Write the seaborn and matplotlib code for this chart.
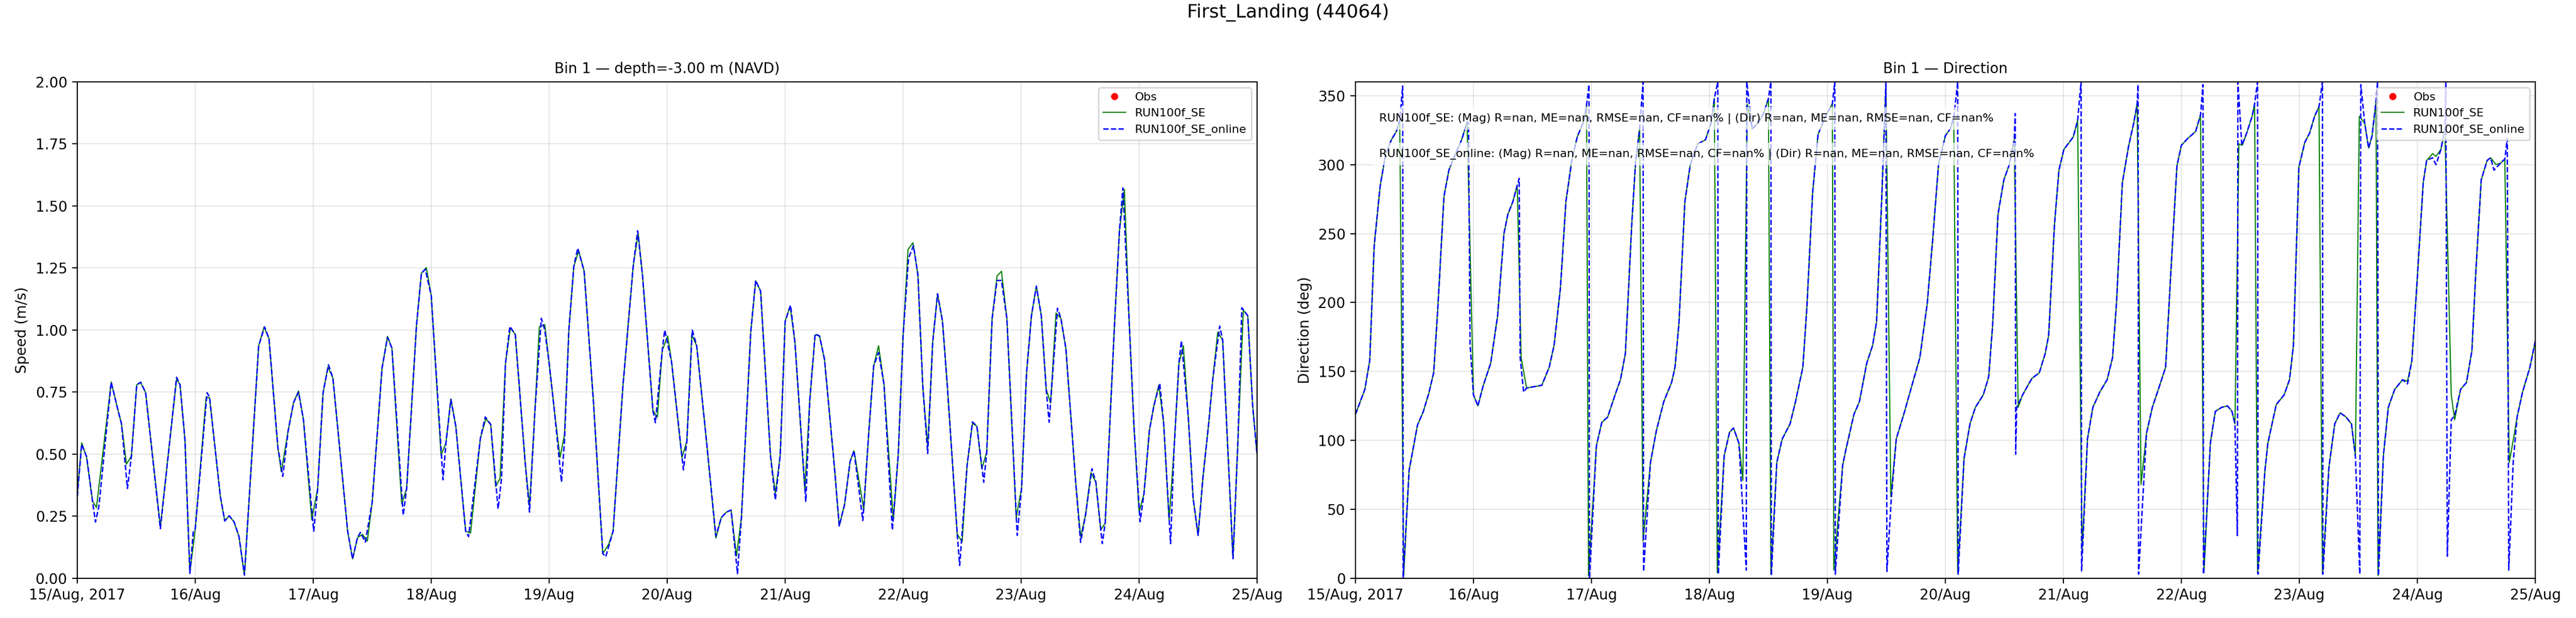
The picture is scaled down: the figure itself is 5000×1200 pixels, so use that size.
import numpy as np
import pandas as pd
import matplotlib
matplotlib.use("Agg")
import matplotlib.pyplot as plt
import seaborn as sns

plt.rcParams['font.family'] = ['DejaVu Sans']

# ---- data (hours after 15/Aug/2017 00:00, value) ----
station_title = "First_Landing (44064)"
speed_title = "Bin 1 \u2014 depth=-3.00 m (NAVD)"
dir_title = "Bin 1 \u2014 Direction"
run_names = ["RUN100f_SE", "RUN100f_SE_online"]
day_labels = ["15/Aug, 2017", "16/Aug", "17/Aug", "18/Aug", "19/Aug", "20/Aug",
              "21/Aug", "22/Aug", "23/Aug", "24/Aug", "25/Aug"]
speed_ticks = [0.0, 0.25, 0.5, 0.75, 1.0, 1.25, 1.5, 1.75, 2.0]
dir_ticks = [0, 50, 100, 150, 200, 250, 300, 350]

speed_se = [
    (0, 0.34), (0.9, 0.546), (1.9, 0.487), (3.1, 0.312), (3.9, 0.285), (6.9, 0.791),
    (8.3, 0.676), (9, 0.622), (10, 0.46), (11, 0.492), (12.1, 0.78), (12.9, 0.788),
    (13.9, 0.748), (16.9, 0.209), (20.2, 0.802), (20.9, 0.78), (21.9, 0.559), (22.9, 0.022),
    (24, 0.2), (26.2, 0.728), (26.9, 0.728), (29.1, 0.33), (30, 0.231), (30.9, 0.252),
    (31.9, 0.227), (32.9, 0.168), (34, 0.013), (36.9, 0.937), (38, 1.013), (39, 0.966),
    (40.8, 0.528), (41.5, 0.429), (42.9, 0.595), (44, 0.708), (45, 0.755), (46, 0.64),
    (47.7, 0.236), (48.9, 0.362), (50, 0.748), (51, 0.852), (52, 0.807), (55, 0.19),
    (56, 0.078), (57, 0.164), (58, 0.177), (59, 0.15), (60, 0.308), (62, 0.847),
    (63.1, 0.975), (64, 0.928), (66, 0.299), (67, 0.362), (69, 1.018), (70, 1.229),
    (71, 1.252), (72, 1.139), (74, 0.496), (75, 0.546), (76, 0.723), (77, 0.613),
    (79, 0.19), (80, 0.182), (82, 0.564), (83.1, 0.642), (84.1, 0.62), (85.1, 0.37),
    (86, 0.402), (87.1, 0.865), (88.1, 1.009), (89.1, 0.982), (91.1, 0.469), (92, 0.294),
    (93.1, 0.676), (94, 1.013), (95.1, 1.022), (96, 0.865), (97.1, 0.667), (98.2, 0.487),
    (99.1, 0.577), (100, 1.0), (101, 1.256), (102, 1.319), (103.1, 1.238), (105, 0.712),
    (106.9, 0.1), (108.1, 0.137), (109, 0.19), (111, 0.775), (113.1, 1.26), (114.1, 1.39),
    (115, 1.216), (117.1, 0.676), (118, 0.649), (119, 0.919), (120.1, 0.976), (120.9, 0.871),
    (123, 0.486), (124, 0.552), (125, 0.981), (126, 0.937), (128, 0.552), (129.9, 0.162),
    (131, 0.244), (132, 0.266), (133, 0.275), (134.1, 0.09), (135.1, 0.244), (137, 0.992),
    (138, 1.199), (139, 1.157), (141, 0.497), (142, 0.343), (143, 0.497), (144, 1.036),
    (145, 1.097), (146, 0.948), (148, 0.354), (149, 0.717), (150.1, 0.981), (151, 0.976),
    (152, 0.882), (154, 0.453), (155, 0.211), (156.1, 0.299), (157.2, 0.47), (158, 0.514),
    (160, 0.277), (161, 0.585), (162, 0.855), (163, 0.937), (164.1, 0.783), (166, 0.233),
    (167, 0.497), (168, 0.981), (169, 1.325), (170, 1.352), (171, 1.223), (172, 0.772),
    (173, 0.53), (174, 0.948), (175, 1.146), (176, 1.036), (177, 0.772), (179, 0.178),
    (180, 0.147), (181, 0.453), (182.1, 0.624), (183, 0.613), (184, 0.442), (185, 0.508),
    (186.1, 1.047), (187.1, 1.218), (188, 1.237), (189.1, 1.047), (191, 0.244), (192.1, 0.365),
    (193.1, 0.827), (194.1, 1.058), (195.1, 1.177), (196.1, 1.058), (197.1, 0.761), (198, 0.706),
    (199.1, 1.069), (200.1, 1.047), (201.1, 0.926), (203.1, 0.387), (204.1, 0.167), (205.1, 0.255),
    (206.2, 0.426), (207.2, 0.387), (208.2, 0.195), (209.1, 0.222), (211, 1.025), (212, 1.399),
    (213, 1.567), (214, 1.025), (215, 0.596), (216, 0.266), (217, 0.343), (218.1, 0.596),
    (219, 0.695), (220, 0.778), (221, 0.624), (222.1, 0.233), (223.1, 0.519), (224.1, 0.866),
    (225, 0.937), (226, 0.651), (227, 0.321), (228, 0.173), (229, 0.409), (230.1, 0.613),
    (231, 0.805), (232, 0.992), (233, 0.959), (234.1, 0.497), (235.1, 0.079), (236.1, 0.552),
    (237.2, 1.08), (238.1, 1.058), (239.1, 0.695), (240, 0.497),
]

speed_online = [
    (0, 0.33), (0.9, 0.54), (1.9, 0.49), (3.1, 0.31), (3.7, 0.227), (4.4, 0.29), (6.9, 0.79),
    (8.3, 0.676), (9, 0.622), (10.2, 0.362), (11, 0.49), (12.1, 0.78), (12.9, 0.79),
    (13.9, 0.748), (16.9, 0.2), (20.2, 0.81), (20.9, 0.78), (21.9, 0.559), (22.9, 0.02),
    (23.6, 0.19), (24, 0.2), (26.4, 0.748), (26.9, 0.73), (29.1, 0.33), (30, 0.231), (30.9, 0.252),
    (31.9, 0.227), (32.9, 0.168), (34, 0.013), (36.9, 0.937), (38.1, 1.013), (39, 0.966),
    (40.8, 0.528), (41.8, 0.411), (42.9, 0.595), (44, 0.708), (45, 0.75), (46, 0.64),
    (48.1, 0.19), (48.9, 0.36), (50, 0.748), (51.1, 0.86), (52, 0.807), (55, 0.19),
    (56, 0.078), (57, 0.164), (57.6, 0.185), (58.6, 0.146), (60, 0.308), (62, 0.847),
    (63.1, 0.97), (64, 0.928), (66.3, 0.254), (67, 0.362), (69, 1.018), (70, 1.229),
    (70.8, 1.245), (72, 1.139), (74.4, 0.397), (75, 0.546), (76, 0.72), (77, 0.613),
    (79, 0.19), (79.6, 0.168), (82, 0.564), (83, 0.65), (84.1, 0.62), (85.6, 0.28),
    (86.3, 0.402), (87.1, 0.865), (88, 1.015), (89.1, 0.982), (91.1, 0.469), (92, 0.267),
    (93.1, 0.676), (94.4, 1.047), (95.1, 1.0), (96, 0.865), (97.1, 0.667), (98.5, 0.388),
    (99.1, 0.55), (100, 1.0), (101, 1.256), (101.8, 1.33), (103.1, 1.238), (105, 0.712),
    (106.9, 0.1), (107.5, 0.087), (109, 0.19), (111, 0.775), (113.1, 1.26), (114, 1.4),
    (115, 1.216), (117.1, 0.676), (117.6, 0.627), (119, 0.919), (119.5, 1.0), (120.9, 0.871),
    (123.3, 0.437), (124, 0.552), (125.1, 1.0), (126, 0.937), (128, 0.552), (129.9, 0.17),
    (131, 0.244), (132, 0.266), (133, 0.275), (134.3, 0.019), (135.1, 0.244), (137, 0.992),
    (138, 1.2), (139, 1.157), (141, 0.497), (142, 0.316), (143, 0.497), (144, 1.036),
    (145.1, 1.1), (146, 0.948), (148.2, 0.31), (149, 0.717), (150.1, 0.985), (151, 0.976),
    (152, 0.882), (154, 0.453), (155, 0.211), (156.1, 0.299), (157.2, 0.47), (158, 0.514),
    (159.8, 0.233), (161, 0.585), (162, 0.855), (163, 0.91), (164.1, 0.783), (165.8, 0.195),
    (167, 0.497), (168, 0.981), (169.1, 1.29), (170.1, 1.34), (171, 1.223), (172, 0.772),
    (173, 0.503), (174, 0.948), (175, 1.146), (176, 1.036), (177, 0.772), (179, 0.178),
    (179.5, 0.052), (181, 0.453), (182.1, 0.63), (183, 0.613), (184.4, 0.387), (185, 0.508),
    (186.1, 1.047), (187.1, 1.2), (188, 1.2), (189.1, 1.047), (191.2, 0.173), (192.1, 0.365),
    (193.1, 0.827), (194.1, 1.058), (195.1, 1.177), (196.1, 1.058), (197.1, 0.761), (197.7, 0.629),
    (199.4, 1.088), (200.1, 1.047), (201.1, 0.926), (203.1, 0.387), (204.1, 0.145), (205.1, 0.255),
    (206.4, 0.442), (207.2, 0.387), (208.5, 0.14), (209.1, 0.222), (211, 1.025), (212, 1.399),
    (212.7, 1.573), (214, 1.025), (215, 0.596), (216.2, 0.228), (217, 0.343), (218.1, 0.596),
    (219, 0.695), (220.2, 0.785), (221, 0.624), (222.4, 0.14), (223.1, 0.519), (224.1, 0.866),
    (224.6, 0.957), (226, 0.651), (227, 0.321), (228, 0.173), (229, 0.409), (230.1, 0.613),
    (231, 0.805), (232.4, 1.016), (233, 0.959), (234.1, 0.497), (235.1, 0.079), (236.1, 0.552),
    (236.9, 1.09), (238.1, 1.058), (239.1, 0.695), (240, 0.497),
]

dir_se = [
    (0, 119), (1.9, 137), (2.9, 158), (3.8, 241), (5, 284), (6.1, 307), (7.3, 318), (8.3, 324),
    (9, 332), (9.8, 2), (10.9, 78), (12.6, 111), (13.8, 121), (14.9, 134), (15.9, 149),
    (16.8, 199), (18, 277), (19, 296), (20, 305), (21.6, 318), (22.7, 331), (24, 133),
    (24.9, 125), (26, 140), (27.5, 156), (28.9, 190), (30.2, 250), (31, 264), (32, 273),
    (32.9, 285), (33.7, 160), (34.8, 138), (37.9, 140), (39.4, 153), (40.4, 169), (41.7, 211),
    (42.8, 273), (44, 303), (45.1, 320), (46.5, 332), (47, 343), (47.4, 2), (49, 96),
    (50.1, 113), (51.3, 117), (52.8, 133), (53.9, 144), (54.9, 163), (56.2, 257), (57, 303),
    (57.8, 326), (58.5, 27), (60, 84), (61.2, 107), (62.7, 128), (64.3, 142), (65, 153),
    (65.8, 185), (67, 273), (68.1, 300), (69.6, 315), (71.2, 318), (72.3, 330), (73, 348),
    (73.6, 4), (75, 89), (76.1, 106), (76.9, 109), (78, 98), (78.8, 71), (79.7, 344),
    (80.7, 326), (81.9, 330), (83, 337), (84, 348), (84.5, 3), (85.7, 84), (86.8, 101),
    (88.4, 112), (89.5, 128), (91, 153), (91.8, 195), (93, 280), (94.1, 322), (95.6, 335),
    (97, 344), (97.3, 6), (99.1, 82), (99.8, 94), (101.4, 119), (102.5, 128), (104, 156),
    (105.2, 169), (106, 186), (107.1, 280), (107.9, 358), (108.9, 59), (110, 101),
    (111.7, 121), (113.2, 140), (114.8, 160), (116.3, 199), (117.4, 245), (118.6, 300),
    (120, 321), (121, 326), (121.7, 334), (122.5, 4), (123.8, 87), (125, 112), (126.1, 124),
    (127.7, 133), (128.8, 146), (129.6, 183), (130.7, 264), (131.9, 289), (133, 300),
    (134, 318), (134.8, 124), (135.7, 133), (137.6, 145), (139.1, 149), (140.3, 163),
    (141, 176), (142.2, 257), (143.1, 296), (144.1, 311), (146, 320), (146.9, 332),
    (147.8, 20), (148.9, 101), (150, 124), (151.4, 135), (152.9, 144), (154, 160),
    (154.8, 199), (156, 287), (157.3, 314), (158.3, 330), (159, 344), (159.8, 68),
    (160.9, 105), (162.1, 124), (163.6, 140), (164.8, 153), (165.8, 218), (167.1, 299),
    (168, 314), (169.3, 319), (170.9, 324), (171.9, 336), (172.6, 4), (173.9, 98),
    (174.9, 121), (176.2, 124), (177.4, 125), (178.3, 121), (178.9, 112), (179.7, 315),
    (180.4, 314), (181.2, 322), (182.4, 335), (182.9, 344), (183.5, 4), (185, 78),
    (185.6, 98), (187.3, 126), (188.9, 133), (190, 144), (190.8, 169), (191.9, 298),
    (193.1, 316), (194.1, 323), (195.1, 335), (196, 342), (196.7, 3), (198, 80),
    (199.2, 112), (200.3, 120), (201.5, 117), (202.6, 112), (203.4, 89), (204.2, 335),
    (205.3, 330), (206.1, 312), (206.8, 321), (207.6, 346), (208, 2), (209.1, 89),
    (210.1, 124), (211.4, 137), (213, 144), (214, 143), (214.9, 158), (216, 218),
    (217.2, 287), (217.9, 303), (219.1, 308), (219.8, 306), (220.8, 311), (221.6, 326),
    (222.9, 133), (223.6, 115), (224.8, 137), (226, 142), (227.1, 165), (227.9, 222),
    (229, 289), (230.2, 303), (230.9, 305), (232, 300), (232.9, 301), (233.8, 304),
    (234.7, 84), (235.5, 100), (236.3, 117), (237.4, 135), (238.9, 153), (240, 172),
]

dir_online = [
    (0, 119), (1.9, 137), (2.9, 158), (3.8, 241), (5, 284), (6.1, 307), (7.3, 318), (8.3, 324),
    (9, 332), (9.6, 357), (9.7, 0), (10.9, 78), (12.6, 111), (13.8, 121), (14.9, 134),
    (15.9, 149), (16.8, 199), (18, 277), (19, 296), (20, 305), (21.6, 318), (22.7, 331),
    (23.0, 330), (23.3, 170), (24, 133), (24.9, 125), (26, 140), (27.5, 156), (28.9, 190),
    (30.2, 250), (31, 264), (32, 273), (32.9, 285), (33.3, 290), (33.5, 160), (34.2, 135),
    (34.8, 138), (37.9, 140), (39.4, 153), (40.4, 169), (41.7, 211), (42.8, 273), (44, 303),
    (45.1, 320), (46.5, 332), (47, 343), (47.5, 358), (47.6, 0), (49, 96), (50.1, 113),
    (51.3, 117), (52.8, 133), (53.9, 144), (54.9, 163), (56.2, 257), (57, 303), (57.8, 326),
    (58.5, 360), (58.6, 5), (60, 84), (61.2, 107), (62.7, 128), (64.3, 142), (65, 153),
    (65.8, 185), (67, 273), (68.1, 300), (69.6, 315), (71.2, 318), (72.3, 330), (73, 348),
    (73.7, 360), (73.8, 3), (75, 89), (76.1, 106), (76.9, 109), (78, 98), (79.5, 6),
    (79.6, 360), (80.7, 326), (81.9, 330), (83, 337), (84, 348), (84.5, 360), (84.6, 2),
    (85.7, 84), (86.8, 101), (88.4, 112), (89.5, 128), (91, 153), (91.8, 195), (93, 280),
    (94.1, 322), (95.6, 335), (97, 344), (97.5, 360), (97.6, 3), (99.1, 82), (99.8, 94),
    (101.4, 119), (102.5, 128), (104, 156), (105.2, 169), (106, 186), (107.1, 280),
    (107.9, 360), (108.1, 5), (109, 58), (110, 101), (111.7, 121), (113.2, 140), (114.8, 160),
    (116.3, 199), (117.4, 245), (118.6, 300), (120, 321), (121, 326), (121.7, 334),
    (122.5, 360), (122.6, 3), (123.8, 87), (125, 112), (126.1, 124), (127.7, 133),
    (128.8, 146), (129.6, 183), (130.7, 264), (131.9, 289), (133, 300), (134, 318),
    (134.2, 337), (134.3, 90), (134.5, 124), (135.7, 133), (137.6, 145), (139.1, 149),
    (140.3, 163), (141, 176), (142.2, 257), (143.1, 296), (144.1, 311), (146, 320),
    (146.9, 332), (147.6, 360), (147.7, 5), (148.9, 101), (150, 124), (151.4, 135),
    (152.9, 144), (154, 160), (154.8, 199), (156, 287), (157.3, 314), (158.3, 330),
    (159, 344), (159.2, 358), (159.3, 3), (160.9, 105), (162.1, 124), (163.6, 140),
    (164.8, 153), (165.8, 218), (167.1, 299), (168, 314), (169.3, 319), (170.9, 324),
    (171.9, 336), (172.4, 358), (172.5, 3), (173.9, 98), (174.9, 121), (176.2, 124),
    (177.4, 125), (178.3, 121), (178.9, 112), (179.4, 31), (179.5, 360), (180.3, 314),
    (181.2, 322), (182.4, 335), (182.9, 344), (183.5, 360), (183.6, 3), (185, 78),
    (185.6, 98), (187.3, 126), (188.9, 133), (190, 144), (190.8, 169), (191.9, 298),
    (193.1, 316), (194.1, 323), (195.1, 335), (196, 342), (196.7, 360), (196.8, 3),
    (198, 80), (199.2, 112), (200.3, 120), (201.5, 117), (202.6, 112), (203.4, 89),
    (204.3, 3), (204.5, 358), (205.3, 330), (206.1, 312), (206.8, 321), (207.6, 346),
    (207.9, 360), (208.1, 2), (209.1, 89), (210.1, 124), (211.4, 137), (213, 144),
    (214, 141), (214.9, 158), (216, 218), (217.2, 287), (217.9, 303), (219.1, 305),
    (219.8, 300), (220.8, 311), (221.6, 326), (221.8, 360), (222.1, 16), (222.9, 115),
    (223.6, 118), (224.8, 137), (226, 142), (227.1, 165), (227.9, 222), (229, 289),
    (230.2, 303), (230.9, 305), (231.6, 296), (232.9, 301), (233.8, 304), (234.3, 319),
    (234.6, 6), (235.5, 84), (236.3, 117), (237.4, 135), (238.9, 153), (240, 172),
]

start = pd.Timestamp("2017-08-15")


def to_frame(pairs, name):
    df = pd.DataFrame(pairs, columns=["hours", name])
    df["time"] = start + pd.to_timedelta(df["hours"], unit="h")
    return df


fig = plt.figure(figsize=(25, 6), dpi=200)
ax1 = fig.add_axes([0.03, 0.0642, 0.458, 0.8033])
ax2 = fig.add_axes([0.5262, 0.0642, 0.458, 0.8033])

panels = [
    (ax1, speed_se, speed_online, "Speed (m/s)", speed_title, (0, 2), speed_ticks),
    (ax2, dir_se, dir_online, "Direction (deg)", dir_title, (0, 360), dir_ticks),
]

day_ticks = [start + pd.Timedelta(days=d) for d in range(len(day_labels))]

for ax, se, online, ylab, title, ylim, yticks in panels:
    df_se = to_frame(se, "val")
    df_on = to_frame(online, "val")
    ax.plot([], [], "o", color="red", ms=4, label="Obs")
    sns.lineplot(data=df_se, x="time", y="val", ax=ax, color="green", lw=0.8,
                 estimator=None, sort=False, label=run_names[0])
    sns.lineplot(data=df_on, x="time", y="val", ax=ax, color="blue", lw=1.0,
                 ls="--", estimator=None, sort=False, label=run_names[1])
    ax.set_xlim(day_ticks[0], day_ticks[-1])
    ax.set_ylim(*ylim)
    ax.set_xticks(day_ticks)
    ax.set_xticklabels(day_labels)
    ax.set_yticks(yticks)
    if ylim[1] == 2:
        ax.set_yticklabels([f"{t:.2f}" for t in yticks])
    ax.set_xlabel("")
    ax.set_ylabel(ylab)
    ax.set_title(title, fontsize=10)
    ax.grid(True, alpha=0.3)
    ax.legend(loc="upper right", fontsize=8)

stats = [
    "RUN100f_SE: (Mag) R=nan, ME=nan, RMSE=nan, CF=nan% | (Dir) R=nan, ME=nan, RMSE=nan, CF=nan%",
    "RUN100f_SE_online: (Mag) R=nan, ME=nan, RMSE=nan, CF=nan% | (Dir) R=nan, ME=nan, RMSE=nan, CF=nan%",
]
for i, s in enumerate(stats):
    ax2.text(0.02, 0.926 - 0.071 * i, s, transform=ax2.transAxes, fontsize=8, va="center",
             bbox=dict(facecolor="white", alpha=0.7, edgecolor="none"))

fig.suptitle(station_title, fontsize=13, y=0.994, va="top")

fig.savefig("out.png", dpi=200)
